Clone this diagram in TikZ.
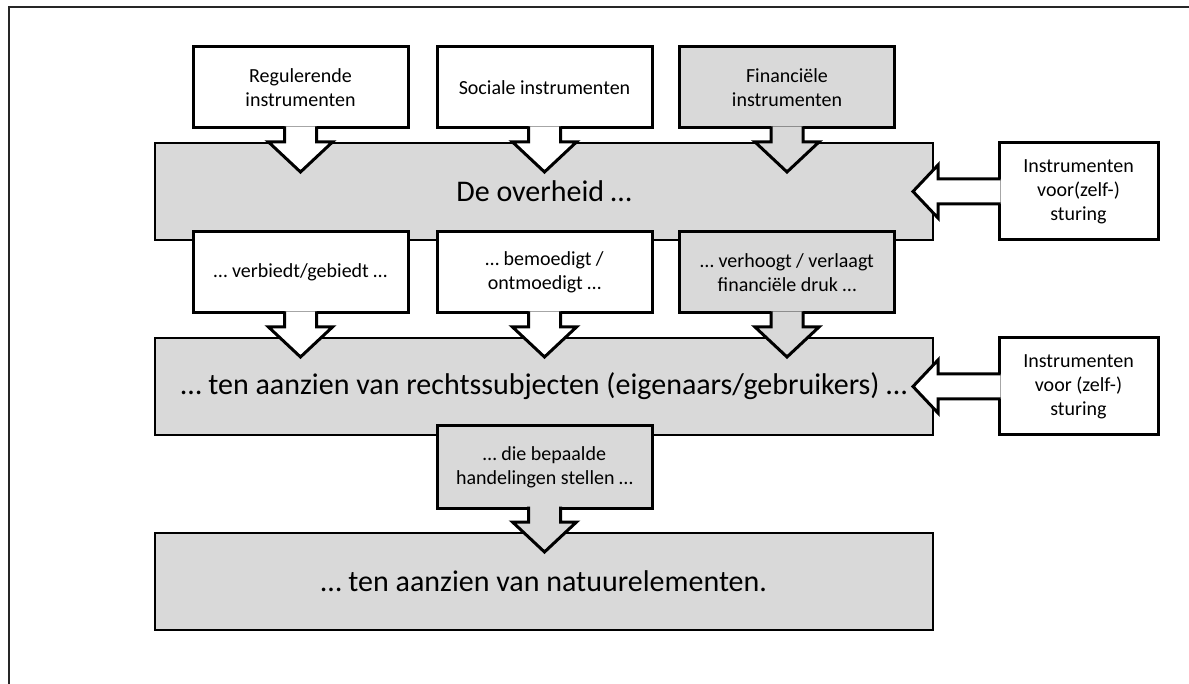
\documentclass[tikz,border=0pt]{standalone}
\usepackage{fontspec}
\setmainfont{Carlito}
\usetikzlibrary{calc}
\definecolor{boxgray}{HTML}{D9D9D9}
\begin{document}
\begin{tikzpicture}[x=1pt,y=-1pt,
  frame/.style={draw=black!85, line width=2pt, line join=miter},
  band/.style={draw=black, line width=2pt, fill=boxgray, outer sep=0pt,
    minimum width=778pt, minimum height=97pt, inner sep=0pt,
    font=\fontsize{30}{36}\selectfont},
  callout/.style={draw=black, line width=3pt, line join=miter, outer sep=0pt,
    minimum width=215pt, minimum height=81pt, inner sep=0pt, align=center,
    font=\fontsize{20}{24}\selectfont},
  side/.style={callout, minimum width=159pt, minimum height=97pt},
  pointer/.style={draw=black, line width=3pt, line join=miter}
]
\useasboundingbox (0,0) rectangle (1189,684);

% outer frame
\draw[frame] (9,684) -- (9,7.5) -- (1189,7.5);

% wide grey bands
\node[band] (gov)  at (544,191.5) {De overheid …};
\node[band] (subj) at (544,386.5) {… ten aanzien van rechtssubjecten (eigenaars/gebruikers) …};
\node[band] (nat)  at (544,581.5) {… ten aanzien van natuurelementen.};

% callout boxes
\node[callout, fill=white]   (reg)  at (300.5,87.5)  {Regulerende\\instrumenten};
\node[callout, fill=white]   (soc)  at (544.5,87.5)  {Sociale instrumenten};
\node[callout, fill=boxgray] (fin)  at (787,87.5)    {Financiële\\instrumenten};
\node[callout, fill=white]   (verb) at (300.5,272.5) {… verbiedt/gebiedt …};
\node[callout, fill=white]   (bem)  at (544.5,272.5) {… bemoedigt /\\ontmoedigt …};
\node[callout, fill=boxgray] (verh) at (787,272.5)   {… verhoogt / verlaagt\\financiële druk …};
\node[callout, fill=boxgray, minimum height=82pt] (act) at (544.5,467) {… die bepaalde\\handelingen stellen …};
\node[side, fill=white] (self1) at (1078.5,191.5) {Instrumenten\\voor(zelf-)\\sturing};
\node[side, fill=white] (self2) at (1078.5,386.5) {Instrumenten\\voor (zelf-)\\sturing};

% downward pointers of the callouts
\foreach \s/\c in {reg/white, soc/white, fin/boxgray, verb/white, bem/white, verh/boxgray, act/boxgray}
  \path[pointer, fill=\c] ($(\s.south)+(-16,-1.5)$) -- ++(0,15.5) -- ++(-16,0)
    -- ($(\s.south)+(0,44)$) -- ($(\s.south)+(32,14)$) -- ++(-16,0) -- ++(0,-15.5);

% leftward pointers of the side boxes
\foreach \s in {self1, self2}
  \path[pointer, fill=white] ($(\s.west)+(1.5,-12.5)$) -- ++(-62.5,0) -- ++(0,-14)
    -- ($(\s.west)+(-86,0)$) -- ($(\s.west)+(-61,26.5)$) -- ++(0,-14) -- ++(62.5,0);
\end{tikzpicture}
\end{document}
